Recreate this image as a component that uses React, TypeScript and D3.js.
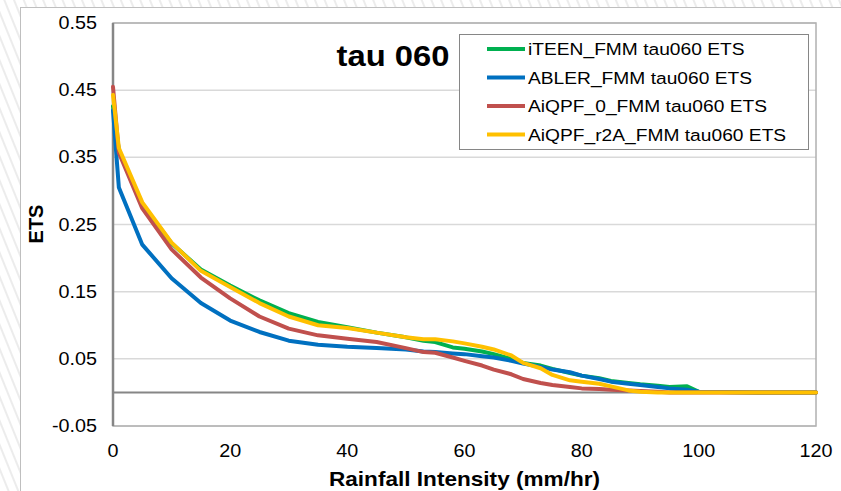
import React from "react";
import * as d3 from "d3";

const xValues = [0, 1, 5, 10, 15, 20, 25, 30, 35, 40, 45, 50, 53, 55, 58, 60, 63, 65, 68, 70, 73, 75, 78, 80, 83, 85, 88, 90, 93, 95, 98, 100, 110, 120];
const iteen = [0.426, 0.36, 0.28, 0.222, 0.183, 0.159, 0.137, 0.118, 0.105, 0.097, 0.089, 0.082, 0.077, 0.075, 0.067, 0.065, 0.061, 0.057, 0.05, 0.044, 0.04, 0.035, 0.029, 0.025, 0.021, 0.017, 0.014, 0.012, 0.01, 0.008, 0.009, 0.001, 0, 0];
const abler = [0.42, 0.305, 0.22, 0.17, 0.133, 0.107, 0.09, 0.077, 0.071, 0.068, 0.066, 0.064, 0.061, 0.06, 0.058, 0.057, 0.054, 0.052, 0.047, 0.043, 0.038, 0.034, 0.03, 0.025, 0.02, 0.016, 0.013, 0.011, 0.008, 0.006, 0.004, 0.001, 0, 0];
const aiqpf0 = [0.455, 0.357, 0.274, 0.213, 0.171, 0.14, 0.113, 0.095, 0.085, 0.08, 0.075, 0.066, 0.06, 0.059, 0.052, 0.047, 0.04, 0.034, 0.027, 0.02, 0.014, 0.011, 0.008, 0.006, 0.005, 0.004, 0.003, 0.002, 0.001, 0, 0, 0, 0, 0];
const aiqpfR2A = [0.443, 0.364, 0.283, 0.223, 0.181, 0.157, 0.133, 0.113, 0.1, 0.096, 0.089, 0.082, 0.079, 0.079, 0.076, 0.073, 0.068, 0.064, 0.055, 0.044, 0.036, 0.026, 0.018, 0.016, 0.013, 0.009, 0.003, 0.001, 0, 0, 0, 0, 0, 0];

const seriesNames = ["iTEEN_FMM tau060 ETS", "ABLER_FMM tau060 ETS", "AiQPF_0_FMM tau060 ETS", "AiQPF_r2A_FMM tau060 ETS"];
const seriesColors = ["#00B050", "#0070C0", "#C0504D", "#FFC000"];
const seriesValues = [iteen, abler, aiqpf0, aiqpfR2A];

const yTicks = [-0.05, 0.05, 0.15, 0.25, 0.35, 0.45, 0.55];
const xTicks = [0, 20, 40, 60, 80, 100, 120];

const W = 841;
const H = 491;
const SX = 1.13;
const FONT = "'Liberation Sans', Arial, sans-serif";

export default function App() {
  const left = 113, right = 816, top = 23, bottom = 426;
  const x = d3.scaleLinear().domain([0, 120]).range([left, right]);
  const y = d3.scaleLinear().domain([-0.05, 0.55]).range([bottom, top]);
  const line = d3.line<[number, number]>().x(d => x(d[0])).y(d => y(d[1]));

  const sText = (tx: number, ty: number, txt: string, size: number, anchor: string, bold = false) => (
    <text transform={`translate(${tx},${ty}) scale(${SX},1)`} fontSize={size} fontFamily={FONT}
      fontWeight={bold ? "bold" : "normal"} textAnchor={anchor as any} fill="#000">{txt}</text>
  );

  return (
    <svg width={W} height={H} style={{ position: "absolute", left: 0, top: 0 }}>
      <defs>
        <pattern id="hatch" width="9" height="9" patternUnits="userSpaceOnUse" patternTransform="rotate(-22)">
          <line x1="4" y1="0" x2="4" y2="9" stroke="#e6e6e6" strokeWidth="1.5" />
        </pattern>
      </defs>
      <rect x={0} y={0} width={W} height={H} fill="#fff" />
      <rect x={0} y={0} width={W} height={H} fill="url(#hatch)" />
      <rect x={20.5} y={7.5} width={W} height={H} fill="#fff" stroke="#bfbfbf" strokeWidth={1} />

      {yTicks.map(t => (
        <line key={t} x1={left} x2={right} y1={y(t)} y2={y(t)} stroke="#d9d9d9" strokeWidth={1.5} />
      ))}
      <rect x={left} y={top} width={right - left} height={bottom - top} fill="none" stroke="#b0b0b0" strokeWidth={1.5} />
      <line x1={left} x2={right} y1={y(0)} y2={y(0)} stroke="#868686" strokeWidth={2} />
      <line x1={left} x2={left} y1={top} y2={bottom} stroke="#868686" strokeWidth={2.5} />

      {seriesValues.map((vals, i) => (
        <path key={i} d={line(xValues.map((xv, j) => [xv, vals[j]] as [number, number])) || ""}
          fill="none" stroke={seriesColors[i]} strokeWidth={4} strokeLinejoin="round" strokeLinecap="round" />
      ))}

      {yTicks.map(t => (
        <g key={t}>{sText(97, y(t) + 6, t.toFixed(2), 17.5, "end")}</g>
      ))}
      {xTicks.map(t => (
        <g key={t}>{sText(x(t), 457, String(t), 17.5, "middle")}</g>
      ))}

      {sText(x(60), 486, "Rainfall Intensity (mm/hr)", 20, "middle", true)}
      <text transform={`translate(43,224) rotate(-90)`} fontSize={20} fontFamily={FONT} fontWeight="bold" textAnchor="middle">ETS</text>

      {sText(393, 66, "tau 060", 29, "middle", true)}

      <rect x={459.5} y={34.5} width={349} height={115} fill="#fff" stroke="#868686" strokeWidth={1} />
      {seriesNames.map((n, i) => (
        <g key={n}>
          <line x1={487} x2={525} y1={49 + i * 28.5} y2={49 + i * 28.5} stroke={seriesColors[i]} strokeWidth={4} />
          {sText(528, 55 + i * 28.5, n, 17, "start")}
        </g>
      ))}
    </svg>
  );
}
